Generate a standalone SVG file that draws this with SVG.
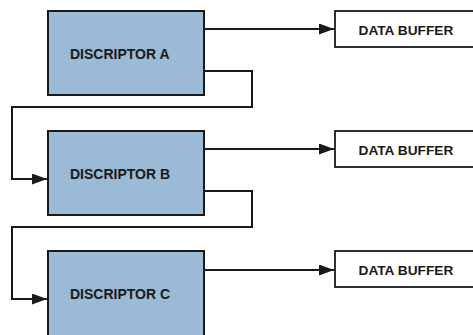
<svg xmlns="http://www.w3.org/2000/svg" width="473" height="335" viewBox="0 0 473 335">
<style>
.desc{fill:#9bbad6;stroke:#1a1a1a;stroke-width:2}
.buf{fill:#fff;stroke:#1a1a1a;stroke-width:1.8}
.lbl{font-family:"Liberation Sans",Arial,sans-serif;font-weight:bold;font-size:14px;fill:#1a1a1a}
.blbl{font-family:"Liberation Sans",Arial,sans-serif;font-weight:bold;font-size:13.7px;fill:#1a1a1a}
.wire{fill:none;stroke:#1a1a1a;stroke-width:2}
</style>
<defs>
<marker id="ah" markerUnits="userSpaceOnUse" markerWidth="15" markerHeight="11" refX="15" refY="5.5" orient="auto">
<path d="M0,0 L15,5.5 L0,11 Z" fill="#1a1a1a"/>
</marker>
</defs>
<rect width="473" height="335" fill="#fff"/>
<g id="connectors">
<path class="wire" d="M204,29 H334" marker-end="url(#ah)"/>
<path class="wire" d="M204,149 H334" marker-end="url(#ah)"/>
<path class="wire" d="M204,270 H334" marker-end="url(#ah)"/>
<path class="wire" d="M204,71 H252 V107 H12 V179 H47" marker-end="url(#ah)"/>
<path class="wire" d="M204,191 H252 V227 H12 V299 H47" marker-end="url(#ah)"/>
</g>
<g id="descA"><rect class="desc" x="48" y="11" width="156" height="84"/><text class="lbl" x="70" y="59">DISCRIPTOR A</text></g>
<g id="descB"><rect class="desc" x="48" y="131" width="156" height="84"/><text class="lbl" x="70" y="179">DISCRIPTOR B</text></g>
<g id="descC"><rect class="desc" x="48" y="251" width="156" height="85"/><text class="lbl" x="70" y="299">DISCRIPTOR C</text></g>
<g id="buf1"><rect class="buf" x="335" y="11" width="140" height="36"/><text class="blbl" x="358.5" y="35">DATA BUFFER</text></g>
<g id="buf2"><rect class="buf" x="335" y="131" width="140" height="36"/><text class="blbl" x="358.5" y="155">DATA BUFFER</text></g>
<g id="buf3"><rect class="buf" x="335" y="251" width="140" height="36"/><text class="blbl" x="358.5" y="275">DATA BUFFER</text></g>
</svg>
